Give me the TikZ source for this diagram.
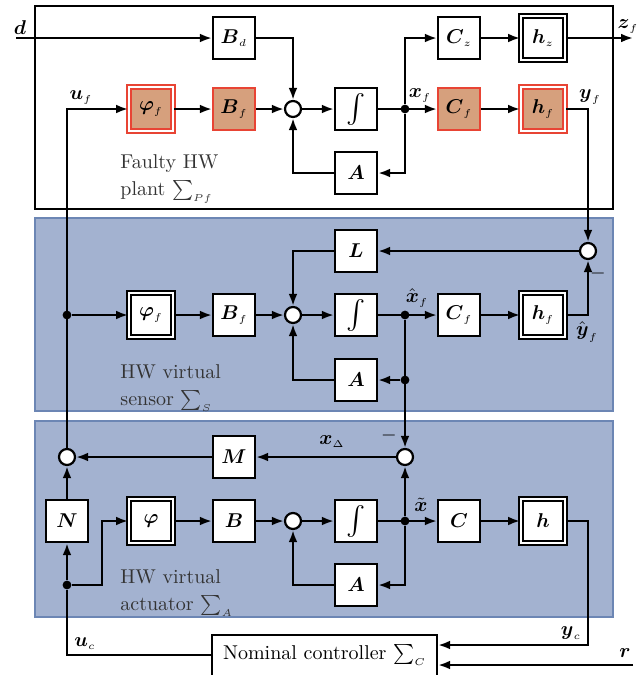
\documentclass[tikz,border=0pt]{standalone}
\usepackage{amsmath}
\usepackage{amssymb}
\usetikzlibrary{arrows.meta, calc}

\definecolor{faultfill}{RGB}{214,160,125}
\definecolor{faultdraw}{RGB}{232,68,52}
\definecolor{panelfill}{RGB}{163,178,208}
\definecolor{paneldraw}{RGB}{108,134,180}

\newcommand{\sub}[1]{_{\scriptscriptstyle #1}}

\begin{document}
\begin{tikzpicture}[
    x=0.5pt, y=-0.5pt,
    font=\normalsize,
    block/.style={rectangle, draw, line width=1.1pt, fill=white,
                  minimum size=21pt, inner sep=0pt},
    dblock/.style={block, line width=0.9pt, double=white,
                   double distance=1.2pt, minimum size=22pt},
    faulty/.style={fill=faultfill, draw=faultdraw},
    sumnode/.style={circle, draw, line width=1.1pt, fill=white,
                    minimum size=8pt, inner sep=0pt},
    dot/.style={circle, fill, minimum size=4.4pt, inner sep=0pt},
    panel/.style={fill=panelfill, draw=paneldraw, line width=1pt},
    arr/.style={-{Latex[length=6pt,width=4.4pt]}, line width=1.1pt},
    wire/.style={line width=1.1pt},
    lbl/.style={text=black!80, anchor=base west, inner sep=0pt},
    sig/.style={inner sep=0pt}
  ]

  \useasboundingbox (0,0) rectangle (639,675);

  % Panels
  \draw[line width=1pt] (35,6) rectangle (613,209);
  \draw[panel] (35,218) rectangle (613,411);
  \draw[panel] (35,421) rectangle (613,617);

  \node[lbl] (plantlbl)   at (120,168) {Faulty HW};
  \node[lbl] (plantlblb)  at (120,195) {plant $\sum\sub{Pf}$};
  \node[lbl] (sensorlbl)  at (120,378) {HW virtual};
  \node[lbl] (sensorlblb) at (120,405) {sensor $\sum\sub{S}$};
  \node[lbl] (actlbl)     at (120,583) {HW virtual};
  \node[lbl] (actlblb)    at (120,610) {actuator $\sum\sub{A}$};

  % Faulty plant
  \node[block]         (Bd)    at (234,38)  {$\boldsymbol{B}\sub{d}$};
  \node[dblock,faulty] (phiPf) at (151,109) {$\boldsymbol{\varphi}\sub{f}$};
  \node[block,faulty]  (BPf)   at (234,109) {$\boldsymbol{B}\sub{f}$};
  \node[sumnode]       (sumP)  at (293,109) {};
  \node[block]         (intP)  at (356,109) {\Large$\int$};
  \node[dot]           (brP)   at (405,109) {};
  \node[block]         (Cz)    at (459,38)  {$\boldsymbol{C}\sub{z}$};
  \node[dblock]        (hz)    at (543,38)  {$\boldsymbol{h}\sub{z}$};
  \node[block,faulty]  (CPf)   at (459,109) {$\boldsymbol{C}\sub{f}$};
  \node[dblock,faulty] (hPf)   at (543,109) {$\boldsymbol{h}\sub{f}$};
  \node[block]         (AP)    at (356,173) {$\boldsymbol{A}$};

  % Virtual sensor
  \node[block]   (LS)    at (356,251) {$\boldsymbol{L}$};
  \node[sumnode] (sumSo) at (588,251) {};
  \node[dot]     (brS1)  at (67,315)  {};
  \node[dblock]  (phiS)  at (151,315) {$\boldsymbol{\varphi}\sub{f}$};
  \node[block]   (BS)    at (234,315) {$\boldsymbol{B}\sub{f}$};
  \node[sumnode] (sumS)  at (293,315) {};
  \node[block]   (intS)  at (356,315) {\Large$\int$};
  \node[dot]     (brS)   at (405,315) {};
  \node[block]   (CS)    at (459,315) {$\boldsymbol{C}\sub{f}$};
  \node[dblock]  (hS)    at (543,315) {$\boldsymbol{h}\sub{f}$};
  \node[block]   (AS)    at (356,380) {$\boldsymbol{A}$};
  \node[dot]     (brS2)  at (405,380) {};

  % Virtual actuator
  \node[sumnode] (sumAl) at (67,457)  {};
  \node[block]   (M)     at (234,457) {$\boldsymbol{M}$};
  \node[sumnode] (sumAr) at (405,457) {};
  \node[block]   (N)     at (67,521)  {$\boldsymbol{N}$};
  \node[dblock]  (phiA)  at (151,521) {$\boldsymbol{\varphi}$};
  \node[block]   (BA)    at (234,521) {$\boldsymbol{B}$};
  \node[sumnode] (sumA)  at (293,521) {};
  \node[block]   (intA)  at (356,521) {\Large$\int$};
  \node[dot]     (brA)   at (405,521) {};
  \node[block]   (CA)    at (459,521) {$\boldsymbol{C}$};
  \node[dblock]  (hA)    at (543,521) {$\boldsymbol{h}$};
  \node[block]   (AA)    at (356,585) {$\boldsymbol{A}$};
  \node[dot]     (brN)   at (67,585)  {};

  % Nominal controller (bottom edge runs off the page)
  \node[block, minimum width=112.5pt, minimum height=25pt]
        (ctrl) at (324.5,660) {};
  \node[sig] (ctrltxt) at (324.5,655) {Nominal controller $\sum\sub{C}$};

  \coordinate (dIn)    at (16,38);
  \coordinate (zOut)   at (633,38);
  \coordinate (kinkA)  at (102,521);
  \coordinate (ycTurn) at (588,645);
  \coordinate (ucOut)  at (212,655);
  \coordinate (rIn)    at (633,665);

  % Plant wiring
  \draw[arr] (dIn)   -- (Bd);
  \draw[arr] (Bd)    -| (sumP);
  \draw[arr] (phiPf) -- (BPf);
  \draw[arr] (BPf)   -- (sumP);
  \draw[arr] (sumP)  -- (intP);
  \draw[arr] (intP)  -- (CPf);
  \draw[arr] (brP)   |- (Cz);
  \draw[arr] (brP)   |- (AP);
  \draw[arr] (AP)    -| (sumP);
  \draw[arr] (Cz)    -- (hz);
  \draw[arr] (hz)    -- (zOut);
  \draw[arr] (CPf)   -- (hPf);
  \draw[arr] (hPf)   -| (sumSo);
  \draw[arr] (sumAl) |- (phiPf);

  % Sensor wiring
  \draw[arr] (brS1)  -- (phiS);
  \draw[arr] (phiS)  -- (BS);
  \draw[arr] (BS)    -- (sumS);
  \draw[arr] (sumS)  -- (intS);
  \draw[arr] (intS)  -- (CS);
  \draw[arr] (CS)    -- (hS);
  \draw[arr] (hS)    -| (sumSo);
  \draw[arr] (sumSo) -- (LS);
  \draw[arr] (LS)    -| (sumS);
  \draw[arr] (AS)    -| (sumS);
  \draw[arr] (brS2)  -- (AS);
  \draw[arr] (brS)   -- (sumAr);

  % Actuator wiring
  \draw[arr] (sumAr) -- (M);
  \draw[arr] (M)     -- (sumAl);
  \draw[arr] (N)     -- (sumAl);
  \draw[arr] (brN)   -- (N);
  \draw[arr] (brN)   -| (kinkA) -- (phiA);
  \draw[arr] (phiA)  -- (BA);
  \draw[arr] (BA)    -- (sumA);
  \draw[arr] (sumA)  -- (intA);
  \draw[arr] (intA)  -- (CA);
  \draw[arr] (CA)    -- (hA);
  \draw[arr] (brA)   -- (sumAr);
  \draw[arr] (brA)   |- (AA);
  \draw[arr] (AA)    -| (sumA);

  % Controller loop
  \draw[wire] (ucOut) -| (brN);
  \draw[arr]  (hA) -| (ycTurn) -- (ycTurn -| ctrl.east);
  \draw[arr]  (rIn) -- (rIn -| ctrl.east);

  % Signal labels
  \node[sig] (dlbl)  at (20,28)   {$\boldsymbol{d}$};
  \node[sig] (uflbl) at (81,98)   {$\boldsymbol{u}\sub{f}$};
  \node[sig] (xflbl) at (420,96)  {$\boldsymbol{x}\sub{f}$};
  \node[sig] (yflbl) at (590,97)  {$\boldsymbol{y}\sub{f}$};
  \node[sig] (zflbl) at (628,27)  {$\boldsymbol{z}\sub{f}$};
  \node[sig] (xhlbl) at (417,298) {$\hat{\boldsymbol{x}}\sub{f}$};
  \node[sig] (yhlbl) at (587,332) {$\hat{\boldsymbol{y}}\sub{f}$};
  \node[sig] (msS)   at (598,273) {$-$};
  \node[sig] (xdlbl) at (332,442) {$\boldsymbol{x}\sub{\Delta}$};
  \node[sig] (msA)   at (389,435) {$-$};
  \node[sig] (xtlbl) at (421,505) {$\tilde{\boldsymbol{x}}$};
  \node[sig] (yclbl) at (571,633) {$\boldsymbol{y}\sub{c}$};
  \node[sig] (rlbl)  at (625,653) {$\boldsymbol{r}$};
  \node[sig] (uclbl) at (85,644)  {$\boldsymbol{u}\sub{c}$};

\end{tikzpicture}
\end{document}
